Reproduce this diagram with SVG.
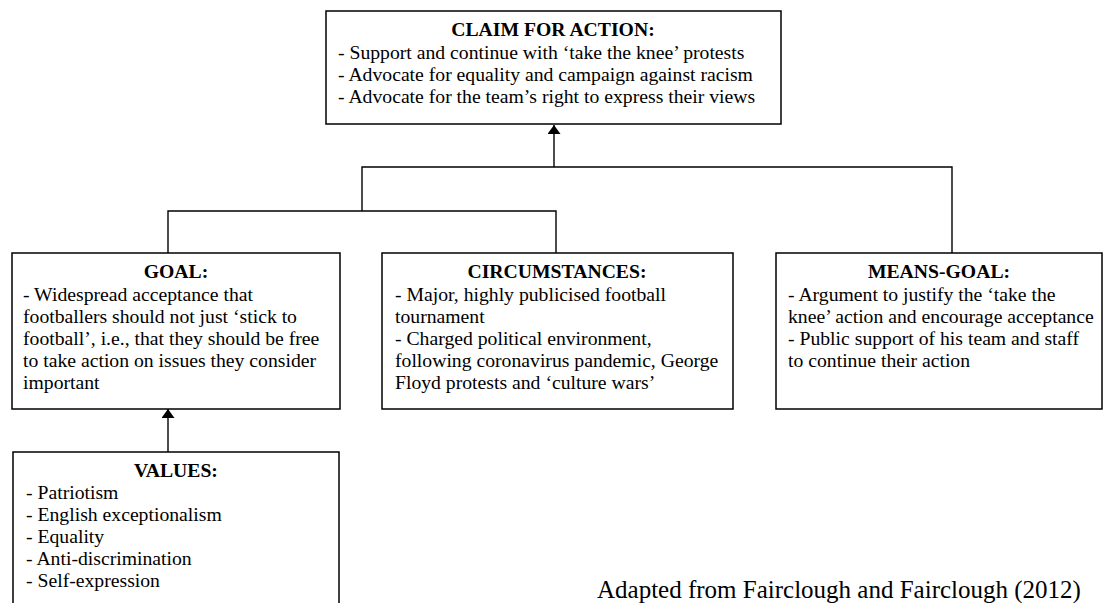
<svg xmlns="http://www.w3.org/2000/svg" width="1103" height="603" viewBox="0 0 1103 603">
<style>
.box{fill:#fff;stroke:#000;stroke-width:1.5}
.t{font-family:"Liberation Serif","Times New Roman",serif;font-size:19.7px;fill:#000}
.h{font-weight:bold;text-anchor:middle}
.c{fill:none;stroke:#000;stroke-width:1.4}
</style>
<defs>
<marker id="arr" markerUnits="userSpaceOnUse" markerWidth="9" markerHeight="13" refX="9" refY="6.5" orient="auto">
<path d="M0,0 L9,6.5 L0,13 Z" fill="#000"/>
</marker>
</defs>
<rect width="1103" height="603" fill="#fff"/>
<g id="connectors">
<path class="c" d="M168 253 V211 H556 V253"/>
<path class="c" d="M362 211 V167 H952 V253"/>
<path class="c" d="M554 167 V125" marker-end="url(#arr)"/>
<path class="c" d="M168 452 V409" marker-end="url(#arr)"/>
</g>
<g id="claim">
<rect class="box" x="326" y="11" width="455" height="113"/>
<text class="t h" x="553" y="36">CLAIM FOR ACTION:</text>
<text class="t" x="338" y="58.5">- Support and continue with ‘take the knee’ protests</text>
<text class="t" x="338" y="81">- Advocate for equality and campaign against racism</text>
<text class="t" x="338" y="103">- Advocate for the team’s right to express their views</text>
</g>
<g id="goal">
<rect class="box" x="12" y="253" width="328" height="156"/>
<text class="t h" x="176" y="278">GOAL:</text>
<text class="t" x="23" y="301">- Widespread acceptance that</text>
<text class="t" x="23" y="323">footballers should not just ‘stick to</text>
<text class="t" x="23" y="345">football’, i.e., that they should be free</text>
<text class="t" x="23" y="367">to take action on issues they consider</text>
<text class="t" x="23" y="389">important</text>
</g>
<g id="circumstances">
<rect class="box" x="382" y="253" width="351" height="156"/>
<text class="t h" x="557" y="278">CIRCUMSTANCES:</text>
<text class="t" x="395" y="301">- Major, highly publicised football</text>
<text class="t" x="395" y="323">tournament</text>
<text class="t" x="395" y="345">- Charged political environment,</text>
<text class="t" x="395" y="367">following coronavirus pandemic, George</text>
<text class="t" x="395" y="389">Floyd protests and ‘culture wars’</text>
</g>
<g id="means-goal">
<rect class="box" x="776" y="253" width="326" height="156"/>
<text class="t h" x="939" y="278">MEANS-GOAL:</text>
<text class="t" x="788" y="301">- Argument to justify the ‘take the</text>
<text class="t" x="788" y="323">knee’ action and encourage acceptance</text>
<text class="t" x="788" y="345">- Public support of his team and staff</text>
<text class="t" x="788" y="367">to continue their action</text>
</g>
<g id="values">
<rect class="box" x="13" y="452" width="326" height="200"/>
<text class="t h" x="176" y="477">VALUES:</text>
<text class="t" x="26" y="499">- Patriotism</text>
<text class="t" x="26" y="521">- English exceptionalism</text>
<text class="t" x="26" y="543">- Equality</text>
<text class="t" x="26" y="565">- Anti-discrimination</text>
<text class="t" x="26" y="587">- Self-expression</text>
</g>
<text class="t" x="597" y="598" style="font-size:25px">Adapted from Fairclough and Fairclough (2012)</text>
</svg>
